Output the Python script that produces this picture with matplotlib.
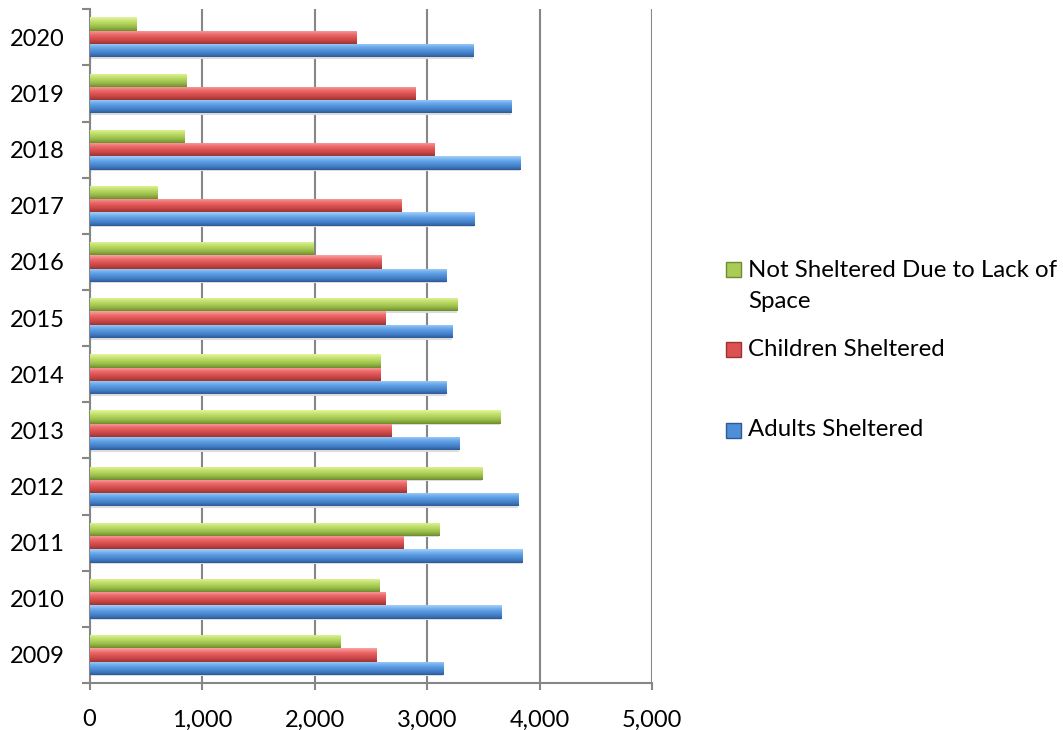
import matplotlib
matplotlib.use("Agg")
import matplotlib.pyplot as plt
import numpy as np
from matplotlib.colors import LinearSegmentedColormap
from matplotlib.patches import Rectangle
from matplotlib.ticker import FuncFormatter

years = ["2009", "2010", "2011", "2012", "2013", "2014",
         "2015", "2016", "2017", "2018", "2019", "2020"]
adults = [3139, 3661, 3842, 3806, 3287, 3172, 3225, 3166, 3421, 3824, 3744, 3406]
children = [2543, 2623, 2789, 2816, 2682, 2585, 2629, 2593, 2771, 3065, 2896, 2371]
not_sheltered = [2229, 2576, 3109, 3492, 3652, 2585, 3264, 1989, 598, 838, 855, 410]

labels = ["Adults Sheltered", "Children Sheltered", "Not Sheltered Due to Lack of\nSpace"]

# bevel stops, top to bottom
shades = {
    "blue": ["#a4d0f8", "#6aa8ea", "#4f8fd8", "#3f78bf", "#2d5a92"],
    "red": ["#fba3a3", "#ec6c6c", "#dc5252", "#bf4242", "#9c3333"],
    "green": ["#e4f6a0", "#c2e06c", "#a9cc56", "#8cae40", "#6c8c2f"],
}

FONT = "Lato"
GRID = "#868686"


def bevel_barh(ax, y, values, h, colors):
    cmap = LinearSegmentedColormap.from_list("bevel", [(0, colors[0]), (0.3, colors[1]),
                                                       (0.55, colors[2]), (0.8, colors[3]),
                                                       (1, colors[4])])
    grad = np.linspace(0, 1, 64).reshape(-1, 1)
    # soft shadow under each bar
    ax.barh(y - h * 0.55, values, height=h * 0.12, color="#dcdcdc", zorder=2.5)
    bars = ax.barh(y, values, height=h, color=colors[2], zorder=3)
    for b in bars:
        x0, y0 = b.get_x(), b.get_y()
        im = ax.imshow(grad, cmap=cmap, aspect="auto", origin="upper",
                       extent=(x0, x0 + b.get_width(), y0, y0 + b.get_height()),
                       zorder=3.1, interpolation="bilinear")
        im.set_clip_path(b)


fig = plt.figure(figsize=(10.63, 7.30), dpi=100)
ax = fig.add_axes([89.5 / 1063, 1 - 683 / 730, (652 - 89.5) / 1063, (683 - 9.3) / 730])

y = np.arange(len(years))
h = 0.237
bevel_barh(ax, y - h, adults, h, shades["blue"])
bevel_barh(ax, y, children, h, shades["red"])
bevel_barh(ax, y + h, not_sheltered, h, shades["green"])

ax.set_xlim(0, 5000)
ax.set_ylim(-0.5, len(years) - 0.5)
ax.set_xticks(np.arange(0, 5001, 1000))
ax.xaxis.set_major_formatter(FuncFormatter(lambda v, p: f"{int(v):,}"))
ax.set_yticks(y)
ax.set_yticklabels(years)
ax.set_yticks(np.arange(-0.5, len(years), 1), minor=True)

ax.grid(axis="x", color=GRID, linewidth=1.5, zorder=0)
ax.set_axisbelow(True)
for s in ["top", "right"]:
    ax.spines[s].set_visible(False)
for s in ["left", "bottom"]:
    ax.spines[s].set_color(GRID)
    ax.spines[s].set_linewidth(1.5)

ax.tick_params(axis="y", which="major", length=0, pad=17.8, labelsize=17)
ax.tick_params(axis="y", which="minor", length=6, width=1.5, color=GRID)
ax.tick_params(axis="x", length=5, width=1.5, color=GRID, pad=14, labelsize=17)
for t in ax.get_xticklabels() + ax.get_yticklabels():
    t.set_fontfamily(FONT)

# legend drawn by hand on the right
legend_rows = [
    (labels[2], shades["green"], 269),
    (labels[1], shades["red"], 349),
    (labels[0], shades["blue"], 430),
]
W, H = 1063, 730
for text, cols, py in legend_rows:
    sq = 15
    fig.patches.append(Rectangle((726 / W, (H - py - sq / 2) / H), sq / W, sq / H,
                                 transform=fig.transFigure, facecolor=cols[2],
                                 edgecolor=cols[4], linewidth=1))
    first = py if "\n" not in text else py + 16.7
    fig.text(748 / W, (H - first) / H, text, fontsize=17.3, fontfamily=FONT,
             va="center", ha="left", linespacing=1.6)

fig.savefig("out.png", dpi=100, facecolor="white")
